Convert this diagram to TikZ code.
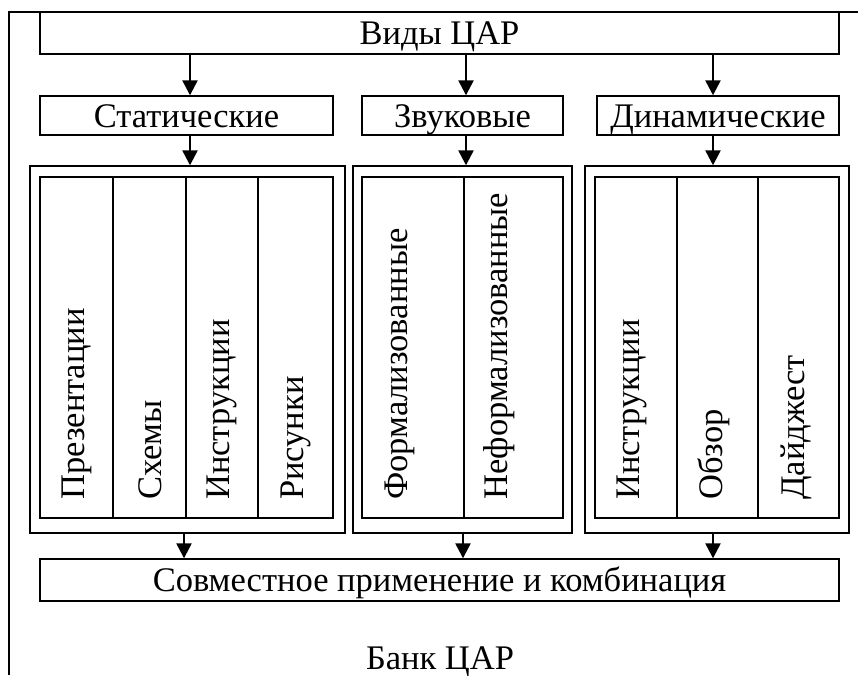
\documentclass[tikz,border=0pt]{standalone}
\usepackage{fontspec}
\setmainfont{Liberation Serif}
\usetikzlibrary{arrows.meta}
\begin{document}
\begin{tikzpicture}[x=1pt,y=-1pt,
  box/.style={draw, line width=1.4pt, inner sep=0pt, text height=31pt, text depth=8pt, font=\fontsize{34.5}{40}\selectfont},
  vtext/.style={rotate=90, anchor=west, inner sep=0pt, font=\fontsize{34.5}{40}\selectfont},
  arr/.style={line width=2.4pt, -{Triangle[width=15pt,length=15pt]}},
  lin/.style={line width=1.4pt}]
\useasboundingbox (0,0) rectangle (858,675);
% outer frame (cut off)
\coordinate (fa) at (9,675);
\coordinate (fb) at (9,12);
\coordinate (fc) at (858,12);
\draw[lin] (fa) -- (fb) -- (fc);
% top
\node[box, minimum width=799pt, minimum height=42pt] (top) at (439.5,33) {Виды ЦАР};
% categories
\node[box, minimum width=293pt, minimum height=39pt] (stat) at (186.5,115.5) {Статические};
\node[box, minimum width=201pt, minimum height=39pt] (zvuk) at (462.5,115.5) {Звуковые};
\node[box, minimum width=242pt, minimum height=39pt] (dyn) at (718,115.5) {Динамические};
% containers
\node[draw, lin, minimum width=315pt, minimum height=367pt, inner sep=0pt] (so) at (187.5,349.5) {};
\node[draw, lin, minimum width=293pt, minimum height=341pt, inner sep=0pt] (si) at (186.5,347.5) {};
\node[draw, lin, minimum width=219pt, minimum height=367pt, inner sep=0pt] (zo) at (462.5,349.5) {};
\node[draw, lin, minimum width=201pt, minimum height=341pt, inner sep=0pt] (zi) at (462.5,347.5) {};
\node[draw, lin, minimum width=264pt, minimum height=367pt, inner sep=0pt] (do) at (717,349.5) {};
\node[draw, lin, minimum width=244pt, minimum height=341pt, inner sep=0pt] (di) at (717,347.5) {};
% dividers
\foreach \x/\n in {113/s1,186/s2,258/s3,464/z1,677/d1,758/d2}{
  \coordinate (\n) at (\x,0);
  \draw[lin] (si.north -| \n) -- (si.south -| \n);
}
% vertical texts
\node[vtext] (t1) at (77,500) {Презентации};
\node[vtext] (t2) at (150,500) {Схемы};
\node[vtext] (t3) at (222,500) {Инструкции};
\node[vtext] (t4) at (296,500) {Рисунки};
\node[vtext] (t5) at (400,500) {Формализованные};
\node[vtext] (t6) at (499,500) {Неформализованные};
\node[vtext] (t7) at (632,500) {Инструкции};
\node[vtext] (t8) at (714,500) {Обзор};
\node[vtext] (t9) at (796,500) {Дайджест};
% bottom
\node[box, minimum width=799pt, minimum height=42pt] (comb) at (439.5,580) {Совместное применение и комбинация};
\node[inner sep=0pt, anchor=base, font=\fontsize{34.5}{40}\selectfont] (bank) at (440,669) {Банк ЦАР};
% arrows
\coordinate (xa) at (190,0);
\coordinate (xb) at (466,0);
\coordinate (xc) at (713,0);
\coordinate (xd) at (184,0);
\coordinate (xe) at (463,0);
\draw[arr] (top.south -| xa) -- (stat.north -| xa);
\draw[arr] (top.south -| xb) -- (zvuk.north -| xb);
\draw[arr] (top.south -| xc) -- (dyn.north -| xc);
\draw[arr] (stat.south -| xa) -- (so.north -| xa);
\draw[arr] (zvuk.south -| xb) -- (zo.north -| xb);
\draw[arr] (dyn.south -| xc) -- (do.north -| xc);
\draw[arr] (so.south -| xd) -- (comb.north -| xd);
\draw[arr] (zo.south -| xe) -- (comb.north -| xe);
\draw[arr] (do.south -| xc) -- (comb.north -| xc);
\end{tikzpicture}
\end{document}
